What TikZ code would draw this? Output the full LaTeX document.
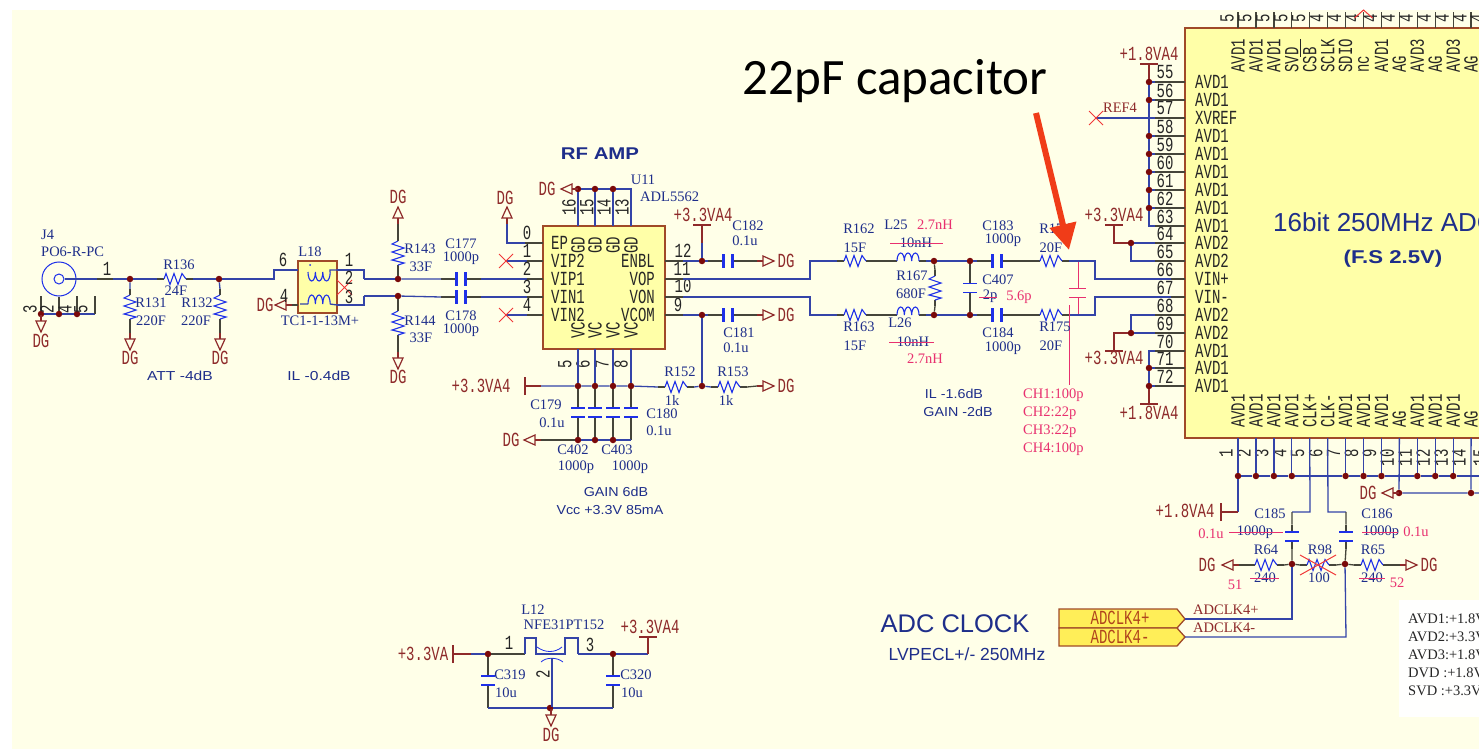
\documentclass[tikz,border=0pt]{standalone}
\usepackage{fontspec}
\setmainfont{Liberation Serif}
\newfontfamily\pinfont[FakeStretch=0.7]{Liberation Mono}
\newfontfamily\sansf{Liberation Sans}
\newfontfamily\wsans[FakeStretch=1.2]{Liberation Sans}
\newfontfamily\ssans[FakeStretch=1.1]{Liberation Sans}
\newfontfamily\calib{Carlito}
\usetikzlibrary{arrows.meta}
\definecolor{bgc}{HTML}{FFFFE8}
\definecolor{wirec}{HTML}{3444A8}
\definecolor{stubc}{HTML}{45453A}
\definecolor{partc}{HTML}{1E30E8}
\definecolor{dotc}{HTML}{7A0A0A}
\definecolor{powc}{HTML}{8E2A2A}
\definecolor{labc}{HTML}{1E2E8A}
\definecolor{pinkc}{HTML}{E8306F}
\definecolor{xred}{HTML}{F03838}
\definecolor{chipf}{HTML}{FFFFA8}
\definecolor{chipb}{HTML}{A04A28}
\definecolor{connf}{HTML}{FFEE58}
\definecolor{arrowc}{HTML}{F03C18}
\newcounter{tn}
\newcommand\Tx[3]{\stepcounter{tn}\node[#1] (t\arabic{tn}) at (#2) {#3};}
\newcommand\Lb[2]{\Tx{lab}{#1}{#2}}
\newcommand\Pk[2]{\Tx{pk}{#1}{#2}}
\newcommand\Rd[2]{\Tx{rd}{#1}{#2}}
\newcommand\Pn[2]{\Tx{pn}{#1}{#2}}
\newcommand\Pv[2]{\Tx{pv}{#1}{#2}}
\newcommand\J[2]{\node[jd] (#1) at (#2) {};}
\newcommand\HB[1]{\draw[pow] ([xshift=-9pt]#1) -- ([xshift=9pt]#1);}
\newcommand\VB[1]{\draw[pow] ([yshift=-9pt]#1) -- ([yshift=9pt]#1);}
\newcommand\XX[1]{\draw[xr] ([shift={(-7pt,-7pt)}]#1) -- ([shift={(7pt,7pt)}]#1) ([shift={(-7pt,7pt)}]#1) -- ([shift={(7pt,-7pt)}]#1);}
\tikzset{
 wr/.style={draw=wirec,line width=1.3pt},
 stub/.style={draw=stubc,line width=1.3pt},
 part/.style={draw=partc,line width=1.1pt},
 pow/.style={draw=powc,line width=1.2pt},
 xr/.style={draw=xred,line width=1pt},
 pinkl/.style={draw=pinkc,line width=1pt},
 jd/.style={circle,fill=dotc,minimum size=6.5pt,inner sep=0pt},
 lab/.style={text=labc,inner sep=0pt,font=\fontsize{14.5}{14.5}\selectfont},
 pk/.style={text=pinkc,inner sep=0pt,font=\fontsize{14.5}{14.5}\selectfont},
 rdlab/.style={text=powc,inner sep=0pt,font=\fontsize{14.5}{14.5}\selectfont},
 sl/.style={text=labc,inner sep=0pt,font=\ssans\fontsize{13}{13}\selectfont},
 rd/.style={text=powc,inner sep=0pt,font=\pinfont\fontsize{20}{20}\selectfont},
 pn/.style={text=black!85,inner sep=0pt,font=\pinfont\fontsize{20}{20}\selectfont},
 pv/.style={pn,rotate=90},
 chipbox/.style={draw=chipb,fill=chipf,line width=1.4pt,inner sep=0pt},
 hres/.pic={\coordinate (-w) at (-18,0); \coordinate (-e) at (18,0);
   \draw[stub] (-18,0)--(-11,0) (11,0)--(18,0);
   \draw[part] (-11,0)--(-9,-5.5)--(-5,5.5)--(-1,-5.5)--(3,5.5)--(7,-5.5)--(11,0);},
 vres/.pic={\coordinate (-n) at (0,-18); \coordinate (-s) at (0,18);
   \draw[stub] (0,-18)--(0,-12) (0,12)--(0,18);
   \draw[part] (0,-12)--(-6,-9)--(6,-5)--(-6,-1)--(6,3)--(-6,7)--(6,10)--(0,12);},
 hind/.pic={\coordinate (-w) at (-18,0); \coordinate (-e) at (18,0);
   \draw[stub] (-18,0)--(-11,0) (11,0)--(18,0);
   \draw[part] (-11,0) arc[start angle=180,end angle=360,x radius=3.67,y radius=8] arc[start angle=180,end angle=360,x radius=3.67,y radius=8] arc[start angle=180,end angle=360,x radius=3.67,y radius=8];},
 hcap/.pic={\coordinate (-w) at (-20,0); \coordinate (-e) at (20,0);
   \draw[stub] (-20,0)--(-4.5,0) (4.5,0)--(20,0);
   \draw[draw=partc,line width=2.2pt] (-4.5,-7)--(-4.5,7) (4.5,-7)--(4.5,7);},
 vcap/.pic={\coordinate (-n) at (0,-12); \coordinate (-s) at (0,12);
   \draw[stub] (0,-12)--(0,-4.5) (0,4.5)--(0,12);
   \draw[draw=partc,line width=1.8pt] (-7,-4.5)--(7,-4.5) (-7,4.5)--(7,4.5);},
 dg/.pic={\coordinate (-in) at (-6,0);
   \draw[pow] (-6,0)--(0,0);
   \draw[pow] (0,-5)--(11,0)--(0,5)--cycle;},
}
\begin{document}
\begin{tikzpicture}[x=1pt,y=-1pt]
\useasboundingbox (0,0) rectangle (1479,749);
\fill[white] (0,0) rectangle (1479,749);
\begin{scope}
\clip (0,0) rectangle (1479,749);
\fill[bgc] (12,10) rectangle (1479,749);

% ---------- J4 and attenuator
\node[circle,draw=partc,line width=1pt,minimum size=34pt,inner sep=0pt] (J4) at (59,279) {};
\node[circle,draw=partc,line width=1pt,minimum size=10pt,inner sep=0pt] (J4i) at (59,279) {};
\J{JA}{41,314} \J{JB}{59,314} \J{JC}{77,314}
\coordinate (JD) at (95,314);
\draw[wr] (JA)--(JB)--(JC)--(JD);
\draw[stub] (JB)--(J4);
\draw[stub] (JA)--(41,296) (JC)--(77,296) (JD)--(95,296);
\Pv{30,309}{3} \Pv{47,309}{2} \Pv{65,309}{4} \Pv{81,309}{5}
\pic[rotate=270] (gJ) at (41,321) {dg};
\draw[pow] (JA)--(gJ-in);
\Rd{41,341}{DG}
\J{DA}{130,279} \J{DB}{219,279}
\pic (R136) at (175,279) {hres};
\draw[wr] (J4i)--(DA) (DA)--(R136-w) (R136-e)--(DB);
\coordinate (JP) at (97,279); \draw[stub] (JP)--(113,279);
\Pn{107,269}{1}
\pic (R131) at (130,307) {vres};
\pic (R132) at (220,307) {vres};
\draw[wr] (DA)--(R131-n) (DB)--(R132-n);
\pic[rotate=270] (g131) at (130,339) {dg};
\pic[rotate=270] (g132) at (220,339) {dg};
\draw[stub] (R131-s)--(g131-in) (R132-s)--(g132-in);
\Rd{130,358}{DG} \Rd{220,358}{DG}
\Lb{179,265}{R136} \Lb{176,291}{24F}
\Lb{151,303}{R131} \Lb{151,321}{220F}
\Lb{197,303}{R132} \Lb{196,321}{220F}
\Tx{anchor=west,lab}{41,235}{J4}
\Tx{anchor=west,lab}{41,252}{PO6-R-PC}
\Tx{sl,font=\wsans\fontsize{13}{13}\selectfont}{180,376}{ATT -4dB}

% ---------- L18
\node[chipbox,minimum width=39pt,minimum height=52pt] (L18) at (317.5,287) {};
\coordinate (L6) at (298,270); \coordinate (L1) at (337,270);
\coordinate (L4) at (298,305); \coordinate (L3) at (337,305);
\coordinate (Lc1) at (274,279);
\draw[wr] (DB)--(Lc1)--(Lc1|-L6)--(L6);
\draw[wr] (L1)--(364,270)--(364,279);
\draw[wr] (L3)--(364,305)--(364,296);
\draw[part] (308,272) arc[start angle=180,end angle=0,x radius=3.7,y radius=9] arc[start angle=180,end angle=0,x radius=3.7,y radius=9] arc[start angle=180,end angle=0,x radius=3.7,y radius=9];
\draw[part] (308,304) arc[start angle=180,end angle=360,x radius=3.7,y radius=9] arc[start angle=180,end angle=360,x radius=3.7,y radius=9] arc[start angle=180,end angle=360,x radius=3.7,y radius=9];
\draw[wr] (330,272)--(330,270)--(L1) (308,304)--(300,304) (330,304)--(L3);
\fill[partc] (310,265) circle (1);
\pic[rotate=180] (gL) at (286,305) {dg};
\draw[stub] (gL-in)--(L4);
\draw[xr] (337,280)--(352,295) (337,295)--(352,280);
\Pn{283,260}{6} \Pn{284,296}{4} \Pn{349,260}{1} \Pn{349,278}{2} \Pn{349,297}{3}
\Rd{265,305}{DG}
\Lb{310,252}{L18} \Lb{320,321}{TC1-1-13M+}
\Tx{sl,font=\wsans\fontsize{13}{13}\selectfont}{319,376}{IL -0.4dB}

% ---------- R143/R144, C177/C178
\J{DC}{398,279} \J{DD}{398,296}
\coordinate (Lc2) at (364,279); \coordinate (Lc3) at (364,296);
\draw[wr] (Lc2)--(DC) (Lc3)--(DD);
\pic (R143) at (398,253) {vres};
\pic (R144) at (398,323) {vres};
\draw[stub] (R143-s)--(DC) (DD)--(R144-n);
\pic[rotate=90] (g143) at (398,218) {dg};
\pic[rotate=270] (g144) at (398,358) {dg};
\draw[stub] (R143-n)--(g143-in) (R144-s)--(g144-in);
\Rd{398,197}{DG} \Rd{398,377}{DG}
\Lb{420,249}{R143} \Lb{421,267}{33F} \Lb{420,321}{R144} \Lb{421,338}{33F}
\pic (C177) at (461,279) {hcap};
\pic (C178) at (461,297) {hcap};
\Lb{461,244}{C177} \Lb{461,258}{1000p} \Lb{461,316}{C178} \Lb{461,330}{1000p}
\draw[wr] (DC)--(C177-w) (DD)--(C178-w);

% ---------- U11
\node[chipbox,minimum width=122pt,minimum height=123pt] (U11) at (604,287.5) {};
\foreach \n/\y in {0/243,1/261,2/279,3/297,4/315}{\coordinate (UL\n) at (543,\y);}
\foreach \n/\y in {12/261,11/279,10/297,9/315}{\coordinate (UR\n) at (665,\y);}
\foreach \n/\x in {16/578,15/595,14/613,13/631}{\coordinate (UT\n) at (\x,226);}
\foreach \n/\x in {5/578,6/595,7/613,8/631}{\coordinate (UB\n) at (\x,349);}
\coordinate (X1) at (506,261); \coordinate (X2) at (506,315);
\draw[wr] (C177-e)--(UL2) (C178-e)--(UL3) (X1)--(UL1) (X2)--(UL4);
\draw[stub] (UL1)--++(-16,0) (UL2)--++(-16,0) (UL3)--++(-16,0) (UL4)--++(-16,0);
\XX{X1} \XX{X2}
\coordinate (p0) at (507,243);
\pic[rotate=90] (g0) at (507,218) {dg};
\draw[wr] (UL0)--(p0)--(g0-in);
\draw[stub] (UL0)--++(-18,0);
\Rd{505,198}{DG}
\J{T16}{578,189} \J{T15}{595,189} \J{T14}{613,189}
\coordinate (T13) at (631,189);
\draw[wr] (T16)--(T15)--(T14)--(T13)--(UT13);
\draw[wr] (T16)--(UT16) (T15)--(UT15) (T14)--(UT14);
\pic[rotate=180] (gT) at (572,189) {dg};
\draw[pow] (gT-in)--(T16);
\Rd{547,189}{DG}
\Pv{569,207}{16} \Pv{587,207}{15} \Pv{604,207}{14} \Pv{622,207}{13}
\Pn{527,233}{0} \Pn{527,251}{1} \Pn{527,269}{2} \Pn{527,287}{3} \Pn{527,305}{4}
\Pn{683,251}{12} \Pn{682,269}{11} \Pn{683,286}{10} \Pn{678,305}{9}
\Pv{565,364}{5} \Pv{583,364}{6} \Pv{602,364}{7} \Pv{621,364}{8}
\Tx{pn,anchor=west}{551,243}{EP} \Tx{pn,anchor=west}{551,261}{VIP2}
\Tx{pn,anchor=west}{551,279}{VIP1} \Tx{pn,anchor=west}{551,297}{VIN1} \Tx{pn,anchor=west}{551,315}{VIN2}
\Tx{pn,anchor=east}{655,261}{ENBL} \Tx{pn,anchor=east}{655,279}{VOP}
\Tx{pn,anchor=east}{655,297}{VON} \Tx{pn,anchor=east}{655,315}{VCOM}
\foreach \x in {578,595,613,631}{\Tx{pv,anchor=west}{\x,254}{GD} \Tx{pv,anchor=west}{\x,339}{VC}}
% right side of U11
\J{D12}{702,261} \J{D9}{702,315} \J{D86}{702,386}
\coordinate (P33) at (702,225);
\HB{P33}
\draw[wr] (P33)--(D12); \draw[pow] (P33)--++(0,18);
\Rd{703,215}{+3.3VA4}
\pic (C182) at (728,261) {hcap};
\pic (C181) at (728,315) {hcap};
\pic (g182) at (763,261) {dg};
\pic (g181) at (763,315) {dg};
\draw[wr] (UR12)--(D12)--(C182-w);
\draw[wr] (UR9)--(D9)--(C181-w);
\draw[stub] (C182-e)--(g182-in) (C181-e)--(g181-in) (UR12)--++(18,0) (UR9)--++(18,0);
\Rd{786,261}{DG} \Rd{786,315}{DG}
\Lb{748,226}{C182} \Lb{745,241}{0.1u} \Lb{739,333}{C181} \Lb{736,348}{0.1u}
\pic (R152) at (676,387) {hres};
\pic (R153) at (729,387) {hres};
\pic (g153) at (763,386) {dg};
\draw[wr] (D9)--(D86);
\draw[wr] (R152-e)--(D86)--(R153-w);
\draw[stub] (R153-e)--(g153-in);
\Rd{786,386}{DG}
\Lb{680,372}{R152} \Lb{672,400}{1k} \Lb{733,372}{R153} \Lb{726,400}{1k}
% bottom of U11
\J{B5}{578,386} \J{B6}{595,386} \J{B7}{613,386} \J{B8}{631,386}
\J{C5}{578,440} \J{C6}{595,440} \J{C7}{613,440}
\coordinate (C8) at (631,440);
\coordinate (P33b) at (525,386);
\VB{P33b}
\draw[wr] (P33b)--(B5)--(B6)--(B7)--(B8)--(R152-w);
\draw[pow] (P33b)--++(16,0);
\Rd{481,386}{+3.3VA4}
\foreach \a in {5,6,7}{\draw[wr] (UB\a)--(B\a);}
\draw[wr] (UB8)--(B8);
\foreach \x/\a/\b in {578/B5/C5,595/B6/C6,613/B7/C7,631/B8/C8}{
  \pic (cb\a) at (\x,412.5) {vcap};
  \draw[stub] (\a)--(cb\a-n) (cb\a-s)--(\b);
}
\draw[wr] (C5)--(C6)--(C7)--(C8);
\pic[rotate=180] (gC) at (535,440) {dg};
\draw[stub] (gC-in)--(C5);
\Rd{511,440}{DG}
\Lb{546,405}{C179} \Lb{552,423}{0.1u} \Lb{573,450}{C402} \Lb{617,450}{C403}
\Lb{576,467}{1000p} \Lb{630,467}{1000p} \Lb{662,414}{C180} \Lb{659,431}{0.1u}
\Tx{sl}{616,492}{GAIN 6dB} \Tx{sl}{610,510}{Vcc +3.3V 85mA}
\Tx{text=labc,inner sep=0pt,font=\wsans\bfseries\fontsize{17}{17}\selectfont}{600,154}{RF AMP}
\Lb{643,180}{U11}
\Tx{lab,anchor=west}{640,197}{ADL5562}

% ---------- filter
\coordinate (a1) at (810,279); \coordinate (a2) at (810,261);
\coordinate (b1) at (810,297); \coordinate (b2) at (810,315);
\pic (R162) at (855,261) {hres};
\pic (R163) at (855,315) {hres};
\pic (L25) at (908,261) {hind};
\pic (L26) at (908,315) {hind};
\draw[wr] (UR11)--(a1)--(a2)--(R162-w);
\draw[wr] (UR10)--(b1)--(b2)--(R163-w);
\draw[stub] (UR11)--++(18,0) (UR10)--++(18,0);
\draw[stub] (R162-e)--(L25-w) (R163-e)--(L26-w);
\J{E1}{934,261} \J{E2}{970,261} \J{E3}{934,315} \J{E4}{970,315}
\draw[wr] (L25-e)--(E1)--(E2) (L26-e)--(E3)--(E4);
\pic (R167) at (935,288) {vres};
\draw[stub] (E1)--(R167-n) (R167-s)--(E3);
\pic (C407) at (970,288) {vcap};
\draw[stub] (E2)--(C407-n) (C407-s)--(E4);
\pic (C183) at (997,261) {hcap};
\pic (C184) at (997,315) {hcap};
\pic (R174) at (1051,261) {hres};
\pic (R175) at (1051,315) {hres};
\draw[wr] (E2)--(C183-w) (E4)--(C184-w);
\draw[stub] (C183-e)--(R174-w) (C184-e)--(R175-w);
\coordinate (v1) at (1095,261); \coordinate (v2) at (1095,279);
\coordinate (w1) at (1095,315); \coordinate (w2) at (1095,297);
\coordinate (PIN66) at (1185,279); \coordinate (PIN67) at (1185,297);
\draw[wr] (R174-e)--(v1)--(v2)--(PIN66);
\draw[wr] (R175-e)--(w1)--(w2)--(PIN67);
\coordinate (ct) at (1078,261); \coordinate (cb) at (1078,315);
\draw[pinkl] (1078,262)--(1078,288) (1069,288)--(1086,288) (1069,297)--(1086,297) (1078,297)--(1078,314);
\draw[pinkl] (1069,305)--(1069,385);
\Lb{859,229}{R162} \Lb{855,248}{15F} \Lb{859,327}{R163} \Lb{855,346}{15F}
\Lb{896,225}{L25} \Pk{935,225}{2.7nH} \Lb{916,243}{10nH}
\draw[pinkl] (890,243)--(943,243);
\Lb{900,323}{L26} \Lb{913,342}{10nH} \Pk{925,359}{2.7nH}
\draw[pinkl] (889,342)--(934,342);
\Lb{912,276}{R167} \Lb{911,294}{680F}
\Lb{998,226}{C183} \Lb{1003,240}{1000p} \Lb{998,280}{C407} \Lb{990,296}{2p}
\draw[pinkl] (979,297)--(997,297);
\Pk{1019,297}{5.6p}
\Lb{998,333}{C184} \Lb{1003,348}{1000p}
\Lb{1055,229}{R174} \Lb{1051,248}{20F} \Lb{1055,327}{R175} \Lb{1051,346}{20F}
\Tx{sl}{954,394}{IL -1.6dB} \Tx{sl}{958,412}{GAIN -2dB}
\Tx{pk,anchor=west}{1023,395}{CH1:100p} \Tx{pk,anchor=west}{1023,413}{CH2:22p}
\Tx{pk,anchor=west}{1023,431}{CH3:22p} \Tx{pk,anchor=west}{1023,449}{CH4:100p}

% ---------- ADC
\node[chipbox,minimum width=320pt,minimum height=410pt] (ADC) at (1345,233) {};
\foreach \n/\y/\t in {55/82/AVD1,56/100/AVD1,57/118/XVREF,58/136/AVD1,59/154/AVD1,60/172/AVD1,61/190/AVD1,62/208/AVD1,63/226/AVD1,64/243/AVD2,65/261/AVD2,66/279/VIN+,67/297/VIN-,68/315/AVD2,69/333/AVD2,70/351/AVD1,71/368/AVD1,72/386/AVD1}{
  \coordinate (P\n) at (1185,\y);
  \Tx{pn,anchor=west}{1195,\y}{\t}
  \pgfmathsetmacro\ny{\y-9.5}
  \Pn{1165,\ny}{\n}
}
\coordinate (V18t) at (1149,64);
\HB{V18t}
\foreach \n/\y in {55/82,56/100,58/136,59/154,60/172,61/190,62/208}{\J{R\n}{1149,\y} \draw[wr] (R\n)--(P\n);}
\coordinate (R63) at (1149,226);
\draw[wr] (R55)--(R56)--(R58)--(R59)--(R60)--(R61)--(R62)--(R63)--(P63);
\draw[pow] (V18t)--(R55);
\Rd{1149,54}{+1.8VA4}
\coordinate (Xv) at (1096,118);
\draw[wr] (Xv)--(P57);
\XX{Xv}
\Tx{rdlab}{1120,108}{REF4}
\coordinate (V33a) at (1114,225);
\HB{V33a}
\J{F1}{1131,243}
\coordinate (F1a) at (1114,243); \coordinate (F1b) at (1131,261);
\draw[wr] (F1a)--(F1)--(P64) (F1)--(F1b)--(P65);
\draw[pow] (V33a)--(F1a)--(F1);
\Rd{1114,215}{+3.3VA4}
\J{F2}{1131,333}
\coordinate (F2a) at (1114,333); \coordinate (F2b) at (1131,315); \coordinate (V33b) at (1114,351);
\HB{V33b}
\draw[wr] (P69)--(F2)--(F2b)--(P68);
\draw[pow] (F2)--(F2a)--(V33b);
\Rd{1114,358}{+3.3VA4}
\J{R71}{1149,368} \J{R72}{1149,386}
\coordinate (R70) at (1149,351); \coordinate (V18b) at (1149,404);
\HB{V18b}
\draw[wr] (P70)--(R70)--(R71)--(R72) (R71)--(P71) (R72)--(P72);
\draw[pow] (R72)--(V18b);
\Rd{1149,413}{+1.8VA4}
\foreach \n in {55,56,57,58,59,60,61,62,63,64,65,68,69,70,71,72}{\draw[stub] (P\n)--++(-30,0);}
\draw[stub] (P66)--++(-14,0) (P67)--++(-14,0);
% top pins
\foreach \i/\t/\d in {0/AVD1/5,1/AVD1/5,2/AVD1/5,3/SVD/5,4/CSB/5,5/SCLK/4,6/SDIO/4,7/nc/4,8/AVD1/4,9/AG/4,10/AVD3/4,11/AG/4,12/AVD3/4,13/AG/4}{
  \pgfmathsetmacro\px{1238+17.93*\i}
  \pgfmathsetmacro\dx{1227+17.93*\i}
  \coordinate (TP\i) at (\px,28);
  \coordinate (TQ\i) at (\px,12);
  \draw[stub] (TP\i)--(TQ\i);
  \Tx{pv,anchor=west}{\px,73}{\t}
  \Pv{\dx,18}{\d}
}
\Pv{1477,18}{4}
\draw[draw=black!85,line width=1pt] (1300.5,39)--(1300.5,57);
\draw[xr] (TQ7) ++(-9,6) -- ++(9,-8) -- ++(9,8);
% bottom pins
\foreach \i/\t in {1/AVD1,2/AVD1,3/AVD1,4/AVD1,5/CLK+,6/CLK-,7/AVD1,8/AVD1,9/AVD1,10/AG,11/AVD1,12/AVD1,13/AVD1,14/AG}{
  \pgfmathsetmacro\px{1238+17.93*(\i-1)}
  \pgfmathsetmacro\dx{\px-12}
  \coordinate (BP\i) at (\px,438);
  \coordinate (BQ\i) at (\px,476);
  \Tx{pv,anchor=west}{\px,428}{\t}
  \Tx{pv,anchor=east}{\dx,449}{\i}
}
\Tx{pv,anchor=east}{1480,449}{15}
\foreach \i in {1,2,3,4,7,8,9,11,12,13}{\J{BJ\i}{BQ\i} \draw[wr] (BP\i)--(BJ\i);}
\coordinate (BEnd) at (1479,476);
\draw[wr] (BJ1)--(BJ2)--(BJ3)--(BJ4)--(BJ7)--(BJ8)--(BJ9)--(BJ11)--(BJ12)--(BJ13)--(BEnd);
\J{H1}{1399,493} \J{H2}{1471,493}
\coordinate (HEnd) at (1479,493);
\draw[wr] (BP10)--(H1)--(H2)--(HEnd) (BP14)--(H2);
\pic[rotate=180] (gH) at (1393,493) {dg};
\Rd{1368,493}{DG}
\coordinate (V18c) at (1221,512);
\VB{V18c}
\coordinate (BJ1a) at (1238,512);
\draw[wr] (BJ1)--(BJ1a);
\draw[pow] (BJ1a)--(V18c);
\Rd{1185,511}{+1.8VA4}
\Tx{text=labc,anchor=west,inner sep=0pt,font=\sansf\fontsize{26}{26}\selectfont}{1273,222}{16bit 250MHz ADC}
\Tx{text=labc,inner sep=0pt,font=\wsans\bfseries\fontsize{18.5}{18.5}\selectfont}{1393,259}{(F.S 2.5V)}

% ---------- clock
\coordinate (K1) at (1310,512); \coordinate (K2) at (1292,512);
\coordinate (K3) at (1328,512); \coordinate (K4) at (1346,512);
\draw[wr] (BP5)--(K1)--(K2);
\draw[wr] (BP6)--(K3)--(K4);
\pic (C185) at (1292,536.5) {vcap};
\pic (C186) at (1346,536.5) {vcap};
\J{M1}{1292,564} \J{M2}{1345,564}
\draw[stub] (K2)--(C185-n) (C185-s)--(M1) (K4)--(C186-n) (C186-s)--(M2);
\pic (R64) at (1266,565) {hres};
\pic (R98) at (1318,565) {hres};
\pic (R65) at (1372,565) {hres};
\draw[stub] (R64-e)--(M1) (M1)--(R98-w) (R98-e)--(M2) (M2)--(R65-w);
\pic[rotate=180] (g64) at (1233,565) {dg};
\pic (g65) at (1406,565) {dg};
\draw[stub] (g64-in)--(R64-w) (R65-e)--(g65-in);
\Rd{1207,565}{DG} \Rd{1429,565}{DG}
\draw[xr] (1300,555)--(1336,575) (1300,575)--(1336,555);
\Lb{1270,514}{C185} \Lb{1255,532}{1000p} \Pk{1211,534}{0.1u}
\draw[pinkl] (1229,532)--(1283,532);
\Lb{1377,514}{C186} \Lb{1381,532}{1000p} \Pk{1416,532}{0.1u}
\draw[pinkl] (1362,532)--(1398,532);
\Lb{1266,550}{R64} \Lb{1265,578}{240} \Pk{1235,585}{51}
\draw[pinkl] (1250,578)--(1279,578);
\Lb{1320,550}{R98} \Lb{1319,578}{100}
\Lb{1373,550}{R65} \Lb{1372,578}{240} \Pk{1397,583}{52}
\draw[pinkl] (1359,578)--(1385,578);
\coordinate (tip1) at (1185,619); \coordinate (tip2) at (1185,637);
\draw[draw=chipb,fill=connf,line width=1.3pt] (1059,609)--(1177,609)--(tip1)--(1177,628)--(1059,628)--cycle;
\draw[draw=chipb,fill=connf,line width=1.3pt] (1059,628)--(1177,628)--(tip2)--(1177,646)--(1059,646)--cycle;
\Tx{rd,text=powc!70!orange}{1120,618}{ADCLK4+}
\Tx{rd,text=powc!70!orange}{1120,637}{ADCLK4-}
\coordinate (N1) at (1292,619); \coordinate (N2) at (1346,637);
\draw[wr] (tip1)--(N1)--(M1);
\draw[wr] (tip2)--(N2)--(M2);
\Tx{rdlab,anchor=west}{1193,610}{ADCLK4+}
\Tx{rdlab,anchor=west}{1193,628}{ADCLK4-}
\Tx{text=labc,inner sep=0pt,font=\sansf\fontsize{25.5}{25.5}\selectfont}{955,624}{ADC CLOCK}
\Tx{text=labc,inner sep=0pt,font=\sansf\fontsize{17.5}{17.5}\selectfont}{967,654}{LVPECL+/- 250MHz}

% ---------- note box
\fill[white!97!bgc] (1399,600) rectangle (1479,717);
\foreach \y/\t in {619/AVD1:+1.8V,637/AVD2:+3.3V,655/AVD3:+1.8V,673/DVD :+1.8V,691/SVD :+3.3V}{
  \Tx{anchor=west,inner sep=0pt,text=black!85,font=\fontsize{14.5}{14.5}\selectfont}{1408,\y}{\t}
}

% ---------- L12
\coordinate (V33c) at (453,654);
\VB{V33c}
\Rd{423,654}{+3.3VA}
\J{S1}{488,654} \J{S2}{613,654} \J{S3}{550,708}
\coordinate (Sa) at (525,654); \coordinate (Sb) at (578,654); \coordinate (Sc) at (648,654); \coordinate (V33d) at (648,637);
\HB{V33d}
\draw[wr] (V33c)--(S1);
\draw[pow] (V33c)--++(18,0);
\draw[stub] (S1)--(Sa);
\draw[wr] (Sa)--(525,638)--(536,638)--(536,654)--(565,654)--(565,638)--(578,638)--(Sb);
\draw[wr] (Sb)--(S2)--(Sc);
\draw[pow] (Sc)--(V33d);
\draw[part,line width=.8pt] (537,647) .. controls (545,653) and (555,653) .. (562,647);
\draw[part,line width=.8pt] (541,662) .. controls (546,657) and (557,657) .. (563,662);
\coordinate (St) at (552,658);
\draw[wr] (St)--(552,707);
\pic (C319) at (488,680.5) {vcap};
\pic (C320) at (613,680.5) {vcap};
\coordinate (Sl) at (488,708); \coordinate (Sr) at (613,708);
\draw[stub] (S1)--(C319-n) (C319-s)--(Sl) (S2)--(C320-n) (C320-s)--(Sr);
\draw[wr] (Sl)--(S3)--(Sr);
\pic[rotate=270] (gS) at (551,715) {dg};
\draw[pow] (S3)--(gS-in);
\Rd{551,735}{DG}
\Pn{509,643}{1} \Pn{590,645}{3} \Pv{543,674}{2}
\Rd{650,627}{+3.3VA4}
\Lb{533,610}{L12} \Lb{564,625}{NFE31PT152}
\Lb{510,675}{C319} \Lb{506,693}{10u} \Lb{636,675}{C320} \Lb{632,693}{10u}

% ---------- annotation
\draw[draw=arrowc,line width=6pt,-{Triangle[length=26pt,width=26pt]}] (1036,113)--(1069,250);
\Tx{inner sep=0pt,text=black,font=\calib\fontsize{51}{51}\selectfont}{895,81}{22pF capacitor}
\end{scope}
\end{tikzpicture}
\end{document}
